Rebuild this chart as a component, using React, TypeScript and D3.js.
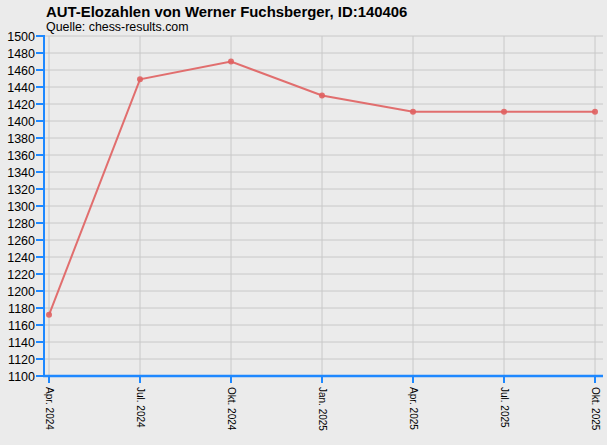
import React from 'react';
import * as d3 from 'd3';

const width = 607;
const height = 445;

const months = ['Apr. 2024', 'Jul. 2024', 'Okt. 2024', 'Jan. 2025', 'Apr. 2025', 'Jul. 2025', 'Okt. 2025'];
const elo = [1172, 1449, 1470, 1430, 1411, 1411, 1411];
const yTicks = d3.range(1100, 1501, 20);

const margin = { left: 44, right: 4, top: 36, bottom: 69 };

const App: React.FC = () => {
  const x = d3
    .scalePoint<string>()
    .domain(months)
    .range([49, 595]);
  const y = d3
    .scaleLinear()
    .domain([1100, 1500])
    .range([height - margin.bottom, margin.top]);

  const line = d3
    .line<number>()
    .x((_, i) => x(months[i]) as number)
    .y(d => y(d));

  const plotRight = width - margin.right;
  const axisColor = '#1e88ff';
  const font = '"Liberation Sans", Arial, sans-serif';

  return (
    <svg
      width={width}
      height={height}
      style={{ position: 'absolute', left: 0, top: 0, background: '#ebebeb' }}
      fontFamily={font}
    >
      <rect width={width} height={height} fill="#ebebeb" />
      <text x={46} y={17} fontSize={14.9} fontWeight="bold" fill="#000">
        AUT-Elozahlen von Werner Fuchsberger, ID:140406
      </text>
      <text x={46} y={31} fontSize={12.4} fill="#000">
        Quelle: chess-results.com
      </text>

      {/* grid */}
      {yTicks.map(t => (
        <line key={'gy' + t} x1={margin.left} x2={plotRight} y1={y(t)} y2={y(t)} stroke="#c8c8c8" strokeWidth={1} />
      ))}
      {months.map(m => (
        <line key={'gx' + m} x1={x(m)} x2={x(m)} y1={margin.top} y2={y(1100)} stroke="#c8c8c8" strokeWidth={1} />
      ))}

      {/* y axis */}
      <line x1={margin.left} x2={margin.left} y1={margin.top - 1} y2={y(1100) + 1} stroke={axisColor} strokeWidth={2} />
      {yTicks.map(t => (
        <g key={'ty' + t}>
          <line x1={margin.left - 8} x2={margin.left} y1={y(t)} y2={y(t)} stroke={axisColor} strokeWidth={2} />
          <text x={margin.left - 9} y={y(t)} dy="0.36em" textAnchor="end" fontSize={12.5} fill="#000">
            {t}
          </text>
        </g>
      ))}

      {/* x axis */}
      <line x1={margin.left - 1} x2={plotRight} y1={y(1100)} y2={y(1100)} stroke={axisColor} strokeWidth={2.5} />
      {months.map(m => (
        <g key={'tx' + m}>
          <line x1={x(m)} x2={x(m)} y1={y(1100)} y2={y(1100) + 7} stroke={axisColor} strokeWidth={2} />
          <text
            transform={`translate(${x(m)},${y(1100) + 11}) rotate(90)`}
            dy="0.35em"
            fontSize={10}
            fill="#000"
          >
            {m}
          </text>
        </g>
      ))}

      {/* series */}
      <path d={line(elo) ?? ''} fill="none" stroke="#e06060" strokeOpacity={0.9} strokeWidth={2} />
      {elo.map((v, i) => (
        <circle key={'p' + i} cx={x(months[i])} cy={y(v)} r={3} fill="#e06060" fillOpacity={0.9} />
      ))}
    </svg>
  );
};

export default App;
